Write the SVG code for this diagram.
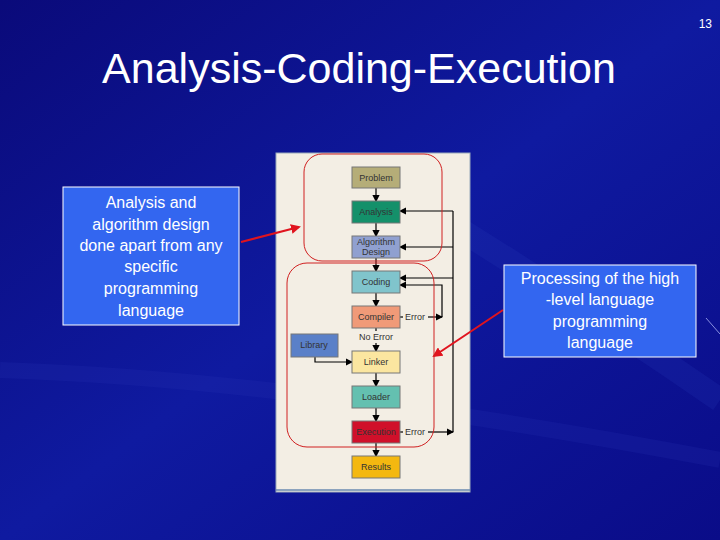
<svg xmlns="http://www.w3.org/2000/svg" width="720" height="540" viewBox="0 0 720 540">
<defs>
<linearGradient id="bg" x1="0" y1="0" x2="1" y2="1">
<stop offset="0" stop-color="#0a0a7a"/><stop offset="0.5" stop-color="#0f1aa0"/><stop offset="1" stop-color="#0a0c88"/>
</linearGradient>
<marker id="ah" markerWidth="6" markerHeight="6" refX="5" refY="3" orient="auto"><path d="M0,0L6,3L0,6z" fill="#000"/></marker>
<marker id="rh" markerWidth="5" markerHeight="5" refX="4" refY="2.5" orient="auto"><path d="M0,0L5,2.5L0,5z" fill="#e0141e"/></marker>
<style>
.t{font-family:"Liberation Sans",Arial,sans-serif;fill:#fff}
.n{stroke:#777;stroke-width:1}
.l{font-family:"Liberation Sans",Arial,sans-serif;font-size:9px;fill:#333;text-anchor:middle}
.c{stroke:#000;stroke-width:1.2;fill:none;marker-end:url(#ah)}
.c0{stroke:#000;stroke-width:1.2;fill:none}
.rr{fill:none;stroke:#d02020;stroke-width:1}
.cb{fill:#3366f0;stroke:#fff;stroke-width:1}
</style>
</defs>
<rect width="720" height="540" fill="url(#bg)"/>
<path d="M380,180 Q560,290 720,400" stroke="#2a3ab8" stroke-width="24" fill="none" opacity="0.2"/>
<path d="M0,370 Q300,380 720,460" stroke="#2a3ab8" stroke-width="16" fill="none" opacity="0.18"/>
<line x1="706" y1="318" x2="720" y2="334" stroke="#8a90e0" stroke-width="1"/>
<text class="t" x="712" y="28" font-size="12" text-anchor="end">13</text>
<text class="t" x="359" y="83" font-size="43" text-anchor="middle">Analysis-Coding-Execution</text>
<rect x="276" y="153" width="194" height="339" fill="#f3eee4" stroke="#9ab" stroke-width="1"/>
<line x1="276" y1="490" x2="470" y2="490" stroke="#6a8ab0" stroke-width="1.5"/>
<g id="connectors">
<line class="c" x1="376" y1="188" x2="376" y2="201"/>
<line class="c" x1="376" y1="223" x2="376" y2="236"/>
<line class="c" x1="376" y1="258" x2="376" y2="271"/>
<line class="c" x1="376" y1="293" x2="376" y2="306"/>
<line class="c0" x1="376" y1="328" x2="376" y2="331"/>
<line class="c" x1="376" y1="343" x2="376" y2="351"/>
<line class="c" x1="376" y1="373" x2="376" y2="386"/>
<line class="c" x1="376" y1="408" x2="376" y2="421"/>
<line class="c" x1="376" y1="443" x2="376" y2="456"/>
<polyline class="c" points="315,357 315,362 352,362"/>
<line class="c0" x1="400" y1="317" x2="403" y2="317"/>
<polyline class="c" points="428,317 442,317"/>
<polyline class="c" points="442,317 442,285 400,285"/>
<line class="c0" x1="400" y1="432" x2="403" y2="432"/>
<polyline class="c" points="428,432 453,432"/>
<polyline class="c0" points="453,432 453,211"/>
<line class="c" x1="453" y1="211" x2="400" y2="211"/>
<line class="c" x1="453" y1="247" x2="400" y2="247"/>
<line class="c" x1="453" y1="278" x2="400" y2="278"/>
<line x1="241" y1="242" x2="299" y2="227" stroke="#e0141e" stroke-width="2" marker-end="url(#rh)"/>
<line x1="503" y1="310" x2="434" y2="356" stroke="#e0141e" stroke-width="2" marker-end="url(#rh)"/>
</g>
<rect class="rr" x="304" y="154" width="138" height="107" rx="18"/>
<rect class="rr" x="287" y="263" width="147" height="184" rx="20"/>
<g id="problem"><rect class="n" x="352" y="167" width="48" height="21" fill="#b5ad78"/><text class="l" x="376" y="181">Problem</text></g>
<g id="analysis"><rect class="n" x="352" y="201" width="48" height="22" fill="#14906a"/><text class="l" x="376" y="215">Analysis</text></g>
<g id="algorithm"><rect class="n" x="352" y="236" width="48" height="22" fill="#90a0d0"/><text class="l" x="376" y="245">Algorithm</text><text class="l" x="376" y="255">Design</text></g>
<g id="coding"><rect class="n" x="352" y="271" width="48" height="22" fill="#80c4cc"/><text class="l" x="376" y="285">Coding</text></g>
<g id="compiler"><rect class="n" x="352" y="306" width="48" height="22" fill="#f09a78"/><text class="l" x="376" y="320">Compiler</text><text class="l" x="415" y="320">Error</text></g>
<text class="l" x="376" y="340">No Error</text>
<g id="library"><rect class="n" x="291" y="334" width="47" height="23" fill="#5a80c8"/><text class="l" x="314" y="348">Library</text></g>
<g id="linker"><rect class="n" x="352" y="351" width="48" height="22" fill="#fbe6a0"/><text class="l" x="376" y="365">Linker</text></g>
<g id="loader"><rect class="n" x="352" y="386" width="48" height="22" fill="#64c0b0"/><text class="l" x="376" y="400">Loader</text></g>
<g id="execution"><rect class="n" x="352" y="421" width="48" height="22" fill="#d0102a"/><text class="l" x="376" y="435" fill="#702020">Execution</text><text class="l" x="415" y="435">Error</text></g>
<g id="results"><rect class="n" x="352" y="456" width="48" height="22" fill="#f4b810"/><text class="l" x="376" y="470">Results</text></g>
<g id="note-left"><rect class="cb" x="63" y="187" width="176" height="138"/>
<text class="t" font-size="16" text-anchor="middle"><tspan x="151" y="208">Analysis and</tspan><tspan x="151" y="230">algorithm design</tspan><tspan x="151" y="251">done apart from any</tspan><tspan x="151" y="272">specific</tspan><tspan x="151" y="294">programming</tspan><tspan x="151" y="316">language</tspan></text></g>
<g id="note-right"><rect class="cb" x="504" y="265" width="192" height="92"/>
<text class="t" font-size="16" text-anchor="middle"><tspan x="600" y="284">Processing of the high</tspan><tspan x="600" y="305">-level language</tspan><tspan x="600" y="327">programming</tspan><tspan x="600" y="348">language</tspan></text></g>
</svg>
